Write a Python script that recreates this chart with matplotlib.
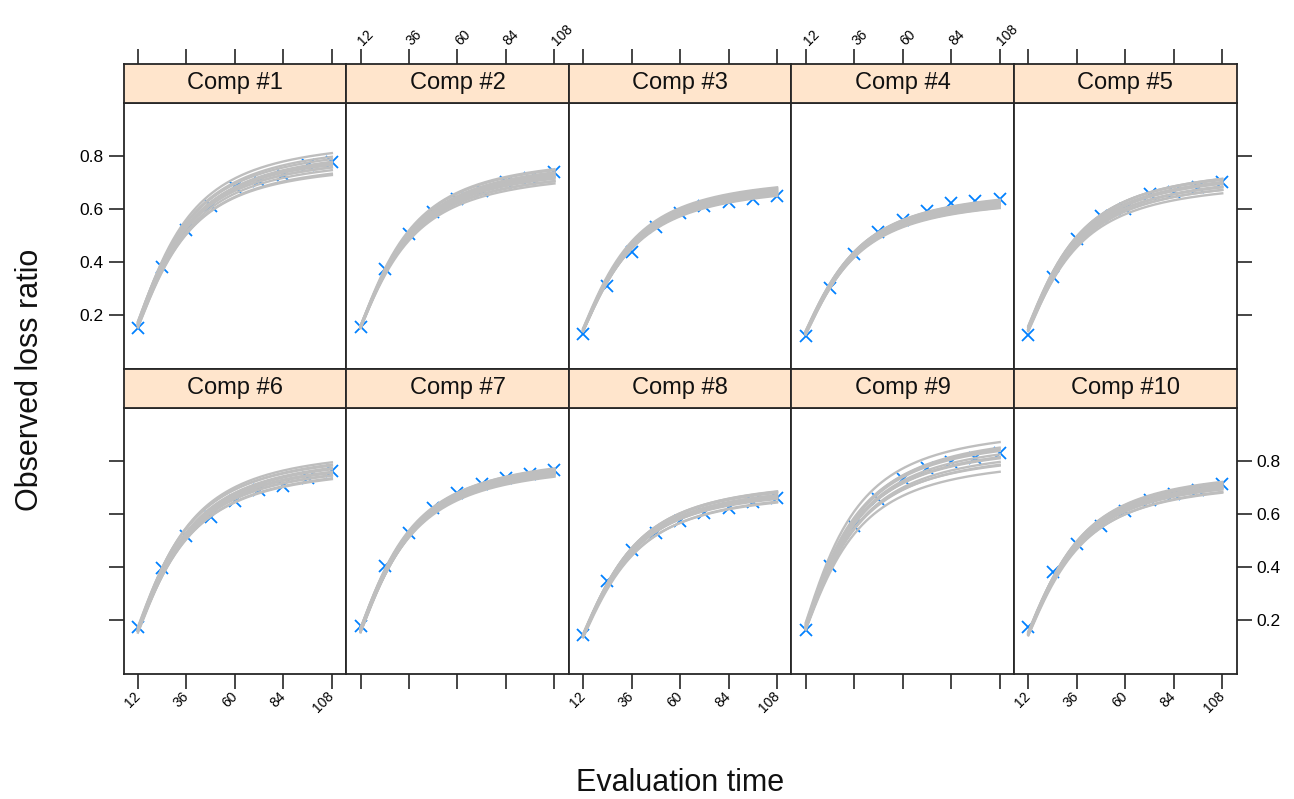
import numpy as np
import matplotlib
matplotlib.use('Agg')
import matplotlib.pyplot as plt

plt.rcParams['font.family'] = ['Liberation Sans', 'DejaVu Sans']

eval_time = [12, 24, 36, 48, 60, 72, 84, 96, 108]
x_ticks = [12, 36, 60, 84, 108]
y_ticks = [0.2, 0.4, 0.6, 0.8]
comp_names = ['Comp #%d' % (i + 1) for i in range(10)]

# observed loss ratios (blue crosses)
obs_comp1 = [0.152, 0.381, 0.518, 0.612, 0.680, 0.706, 0.728, 0.765, 0.776]
obs_comp2 = [0.156, 0.371, 0.505, 0.587, 0.635, 0.665, 0.700, 0.715, 0.737]
obs_comp3 = [0.128, 0.308, 0.436, 0.530, 0.583, 0.609, 0.627, 0.637, 0.647]
obs_comp4 = [0.120, 0.300, 0.430, 0.514, 0.559, 0.590, 0.620, 0.630, 0.638]
obs_comp5 = [0.126, 0.344, 0.484, 0.572, 0.600, 0.655, 0.664, 0.681, 0.702]
obs_comp6 = [0.175, 0.396, 0.519, 0.590, 0.650, 0.690, 0.705, 0.735, 0.762]
obs_comp7 = [0.179, 0.404, 0.531, 0.622, 0.679, 0.714, 0.736, 0.752, 0.766]
obs_comp8 = [0.146, 0.350, 0.466, 0.531, 0.575, 0.605, 0.625, 0.645, 0.662]
obs_comp9 = [0.165, 0.404, 0.554, 0.656, 0.731, 0.773, 0.796, 0.812, 0.830]
obs_comp10 = [0.175, 0.384, 0.488, 0.556, 0.612, 0.653, 0.677, 0.690, 0.715]
observed = [obs_comp1, obs_comp2, obs_comp3, obs_comp4, obs_comp5,
            obs_comp6, obs_comp7, obs_comp8, obs_comp9, obs_comp10]

# simulated growth curves: ulr * t^omega / (t^omega + theta^omega)
omega_draws = [1.78, 1.82, 1.80, 1.76, 1.84, 1.79, 1.81, 1.77, 1.83, 1.80, 1.78, 1.82]
theta_draws = [26.0, 25.6, 26.4, 25.8, 26.2, 26.6, 25.4, 26.1, 25.9, 26.3, 25.7, 26.0]
ulr_comp1 = [0.79, 0.81, 0.83, 0.85, 0.80, 0.84, 0.82, 0.86, 0.78, 0.835, 0.815, 0.87]
ulr_comp2 = [0.75, 0.77, 0.79, 0.76, 0.80, 0.78, 0.755, 0.785, 0.765, 0.795, 0.775, 0.805]
ulr_comp3 = [0.70, 0.71, 0.72, 0.705, 0.725, 0.715, 0.73, 0.712, 0.718, 0.708, 0.722, 0.728]
ulr_comp4 = [0.65, 0.66, 0.67, 0.68, 0.655, 0.675, 0.665, 0.685, 0.648, 0.672, 0.662, 0.678]
ulr_comp5 = [0.71, 0.73, 0.75, 0.77, 0.72, 0.74, 0.76, 0.725, 0.745, 0.735, 0.755, 0.765]
ulr_comp6 = [0.79, 0.81, 0.83, 0.85, 0.80, 0.82, 0.84, 0.795, 0.815, 0.835, 0.805, 0.855]
ulr_comp7 = [0.80, 0.81, 0.82, 0.83, 0.805, 0.815, 0.825, 0.835, 0.80, 0.812, 0.822, 0.818]
ulr_comp8 = [0.695, 0.705, 0.715, 0.725, 0.735, 0.70, 0.71, 0.72, 0.73, 0.74, 0.712, 0.722]
ulr_comp9 = [0.82, 0.84, 0.86, 0.88, 0.90, 0.92, 0.935, 0.85, 0.87, 0.89, 0.91, 0.875]
ulr_comp10 = [0.735, 0.745, 0.755, 0.765, 0.775, 0.74, 0.75, 0.76, 0.77, 0.748, 0.758, 0.768]
ulr_draws = [ulr_comp1, ulr_comp2, ulr_comp3, ulr_comp4, ulr_comp5,
             ulr_comp6, ulr_comp7, ulr_comp8, ulr_comp9, ulr_comp10]

W, H = 1294, 799
fig = plt.figure(figsize=(W / 100, H / 100), dpi=100)

col_w = 222.6
col_left = [123.6 + k * col_w for k in range(5)]
rows = [(63.5, 102.5, 368.5), (368.5, 408.0, 674.0)]  # strip top, panel top, panel bottom

def fig_box(x0, y0, x1, y1):
    return [x0 / W, 1 - y1 / H, (x1 - x0) / W, (y1 - y0) / H]

t_fine = np.linspace(12, 108, 200)
xlim = (4.9, 115.1)
ylim = (-0.002, 1.0)
border = '#262626'
tick_kw = dict(direction='out', length=11, width=1.2, color=border, labelsize=12.5)

for i in range(10):
    r, c = i // 5, i % 5
    x0 = col_left[c]
    ax = fig.add_axes(fig_box(x0, rows[r][1], x0 + col_w, rows[r][2]))
    st = fig.add_axes(fig_box(x0, rows[r][0], x0 + col_w, rows[r][1]))

    ax.plot(eval_time, observed[i], linestyle='none', marker='x', color='#0080FF',
            markersize=8, markeredgewidth=1.3, zorder=2)
    for om, th, ulr in zip(omega_draws, theta_draws, ulr_draws[i]):
        g = t_fine ** om / (t_fine ** om + th ** om)
        ax.plot(t_fine, ulr * g, color='#BEBEBE', linewidth=1.7, zorder=3)

    ax.set_xlim(*xlim)
    ax.set_ylim(*ylim)
    st.set_xlim(*xlim)
    st.set_ylim(0, 1)
    st.set_facecolor('#FFE5CC')
    st.text(0.5, 0.5, comp_names[i], transform=st.transAxes, ha='center', va='center',
            fontsize=17, color='#111111')
    st.set_yticks([])

    for a in (ax, st):
        for sp in a.spines.values():
            sp.set_linewidth(1.3)
            sp.set_color(border)

    # x axis: bottom ticks on lower row, top ticks above the upper strips
    ax.set_xticks(x_ticks)
    st.set_xticks(x_ticks)
    ax.tick_params(axis='x', **tick_kw)
    st.tick_params(axis='x', **tick_kw)
    if r == 1:
        ax.tick_params(axis='x', bottom=True, top=False, labelbottom=(c % 2 == 0), labeltop=False)
        ax.set_xticklabels([str(v) for v in x_ticks], rotation=45, ha='right', va='center',
                           rotation_mode='anchor', fontsize=10)
        st.tick_params(axis='x', bottom=False, top=False, labelbottom=False, labeltop=False)
    else:
        ax.tick_params(axis='x', bottom=False, top=False, labelbottom=False, labeltop=False)
        st.tick_params(axis='x', bottom=False, top=True, labelbottom=False, labeltop=(c % 2 == 1))
        st.set_xticklabels([str(v) for v in x_ticks], rotation=45, ha='left', va='center',
                           rotation_mode='anchor', fontsize=10)

    # y axis: left ticks on first column, right on last column
    ax.set_yticks(y_ticks)
    ax.set_yticklabels(['%.1f' % v for v in y_ticks])
    ax.tick_params(axis='y', **tick_kw)
    ax.tick_params(axis='y', left=(c == 0), right=(c == 4),
                   labelleft=(c == 0 and r == 0), labelright=(c == 4 and r == 1))

fig.text(30 / W, 1 - 380 / H, 'Observed loss ratio', rotation=90, ha='center', va='center',
         fontsize=22, color='#111111')
fig.text(680 / W, 1 - 783 / H, 'Evaluation time', ha='center', va='center',
         fontsize=22, color='#111111')

fig.savefig('out.png', dpi=100)
